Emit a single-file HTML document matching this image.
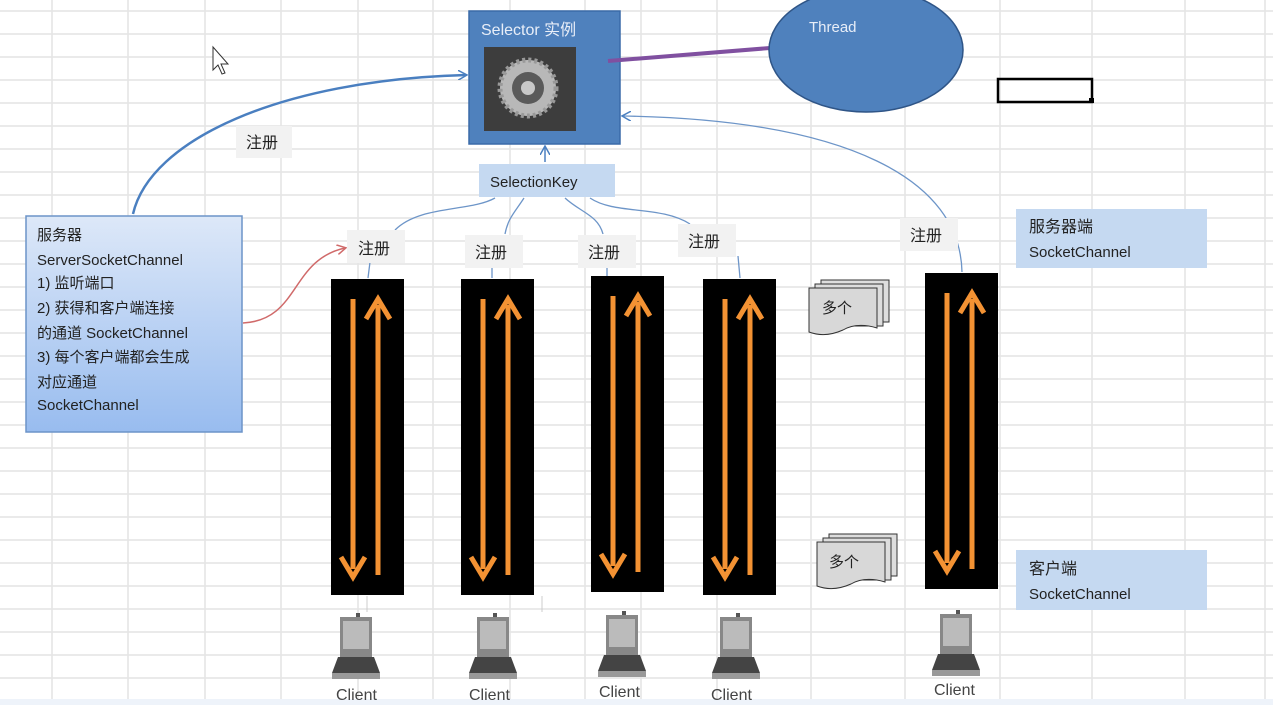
<!DOCTYPE html>
<html><head><meta charset="utf-8"><style>
html,body{margin:0;padding:0;background:#fff;}
svg{display:block;}
text{font-family:"Liberation Sans","Noto Sans CJK SC",sans-serif;}
</style></head><body>
<svg width="1273" height="705" viewBox="0 0 1273 705" xmlns="http://www.w3.org/2000/svg">
<defs>
<linearGradient id="bg1" x1="0" y1="0" x2="0" y2="1"><stop offset="0" stop-color="#dde8f8"/><stop offset="1" stop-color="#98bcef"/></linearGradient>
<marker id="ab" markerWidth="10" markerHeight="10" refX="8" refY="5" orient="auto" markerUnits="userSpaceOnUse"><path d="M0,0 L9,5 L0,10" fill="none" stroke="#4a7fc0" stroke-width="1.5"/></marker>
<marker id="ar" markerWidth="10" markerHeight="10" refX="8" refY="5" orient="auto" markerUnits="userSpaceOnUse"><path d="M0,0 L9,5 L0,10" fill="none" stroke="#d06a6a" stroke-width="1.5"/></marker>
<g id="bar">
<rect x="0" y="0" width="73" height="316" fill="#000"/>
<line x1="22" y1="20" x2="22" y2="290" stroke="#f39233" stroke-width="5"/>
<path d="M10,278 L22,298 L34,278" fill="none" stroke="#f39233" stroke-width="5"/>
<line x1="47" y1="296" x2="47" y2="26" stroke="#f39233" stroke-width="5"/>
<path d="M35,40 L47,20 L59,40" fill="none" stroke="#f39233" stroke-width="5"/>
</g>
<g id="pc">
<rect x="-2" y="0" width="4" height="6" fill="#555"/>
<rect x="-18" y="4" width="32" height="40" fill="#888"/>
<rect x="-15" y="8" width="26" height="28" fill="#bbb"/>
<path d="M-20,44 L16,44 L22,60 L-26,60 Z" fill="#444"/>
<rect x="-26" y="60" width="48" height="6" fill="#999"/>
</g>
<g id="doc">
<path d="M12,-6 h68 v42 h-68z" fill="#ddd" stroke="#333"/>
<path d="M6,-2 h68 v42 h-68z" fill="#ddd" stroke="#333"/>
<path d="M0,2 h68 v40 q-20,-6 -34,2 q-18,8 -34,2 z" fill="#d8d8d8" stroke="#333"/>
</g>
</defs>
<g stroke="#e4e4e4" stroke-width="1.5">
<line x1="0" y1="11" x2="1273" y2="11"/><line x1="0" y1="34" x2="1273" y2="34"/><line x1="0" y1="57" x2="1273" y2="57"/><line x1="0" y1="80" x2="1273" y2="80"/><line x1="0" y1="103" x2="1273" y2="103"/><line x1="0" y1="126" x2="1273" y2="126"/><line x1="0" y1="149" x2="1273" y2="149"/><line x1="0" y1="172" x2="1273" y2="172"/><line x1="0" y1="195" x2="1273" y2="195"/><line x1="0" y1="218" x2="1273" y2="218"/><line x1="0" y1="241" x2="1273" y2="241"/><line x1="0" y1="264" x2="1273" y2="264"/><line x1="0" y1="287" x2="1273" y2="287"/><line x1="0" y1="310" x2="1273" y2="310"/><line x1="0" y1="333" x2="1273" y2="333"/><line x1="0" y1="356" x2="1273" y2="356"/><line x1="0" y1="379" x2="1273" y2="379"/><line x1="0" y1="402" x2="1273" y2="402"/><line x1="0" y1="425" x2="1273" y2="425"/><line x1="0" y1="448" x2="1273" y2="448"/><line x1="0" y1="471" x2="1273" y2="471"/><line x1="0" y1="494" x2="1273" y2="494"/><line x1="0" y1="517" x2="1273" y2="517"/><line x1="0" y1="540" x2="1273" y2="540"/><line x1="0" y1="563" x2="1273" y2="563"/><line x1="0" y1="586" x2="1273" y2="586"/><line x1="0" y1="609" x2="1273" y2="609"/><line x1="0" y1="632" x2="1273" y2="632"/><line x1="0" y1="655" x2="1273" y2="655"/><line x1="0" y1="678" x2="1273" y2="678"/>
<line x1="52" y1="0" x2="52" y2="705"/><line x1="128" y1="0" x2="128" y2="705"/><line x1="205" y1="0" x2="205" y2="705"/><line x1="281" y1="0" x2="281" y2="705"/><line x1="358" y1="0" x2="358" y2="705"/><line x1="433" y1="0" x2="433" y2="705"/><line x1="510" y1="0" x2="510" y2="705"/><line x1="585" y1="0" x2="585" y2="705"/><line x1="641" y1="0" x2="641" y2="705"/><line x1="717" y1="0" x2="717" y2="705"/><line x1="811" y1="0" x2="811" y2="705"/><line x1="905" y1="0" x2="905" y2="705"/><line x1="1000" y1="0" x2="1000" y2="705"/><line x1="1092" y1="0" x2="1092" y2="705"/><line x1="1185" y1="0" x2="1185" y2="705"/><line x1="1265" y1="0" x2="1265" y2="705"/>
</g>
<rect x="0" y="699" width="1273" height="6" fill="#eef3fa"/>

<path d="M213,47 L213,70 L218,65 L222,74 L225,73 L221,64 L228,64 Z" fill="#fff" stroke="#333" stroke-width="1"/>

<rect x="469" y="11" width="151" height="133" fill="#4f81bd" stroke="#3a6aa8" stroke-width="1.5"/>
<text x="481" y="35" font-size="16" fill="#e8eef8">Selector 实例</text>
<rect x="484" y="47" width="92" height="84" fill="#3d3d3d"/>
<circle cx="528" cy="88" r="28" fill="#b8b8b8" stroke="#999" stroke-width="5" stroke-dasharray="3 3"/>
<circle cx="528" cy="88" r="16" fill="#5a5a5a"/>
<circle cx="528" cy="88" r="7" fill="#c8c8c8"/>

<line x1="608" y1="61" x2="770" y2="48" stroke="#8050a0" stroke-width="4"/>
<ellipse cx="866" cy="50" rx="97" ry="62" fill="#4f81bd" stroke="#2f5587" stroke-width="1.5"/>
<text x="809" y="32" font-size="15" fill="#e8eef8">Thread</text>
<rect x="998" y="79" width="94" height="23" fill="none" stroke="#000" stroke-width="2.5"/>
<rect x="1089" y="98" width="5" height="5" fill="#000"/>

<path d="M133,214 C150,140 280,80 466,75" fill="none" stroke="#4a7fc0" stroke-width="2.5" marker-end="url(#ab)"/>
<rect x="236" y="126" width="56" height="32" fill="#f2f2f2"/>
<text x="246" y="148" font-size="16" fill="#222">注册</text>

<line x1="545" y1="162" x2="545" y2="147" stroke="#4a7fc0" stroke-width="1.5" marker-end="url(#ab)"/>
<rect x="479" y="164" width="136" height="33" fill="#c5d9f1"/>
<text x="490" y="187" font-size="15" fill="#222">SelectionKey</text>
<g fill="none" stroke="#6d95c8" stroke-width="1.3">
<path d="M395,230 C420,205 470,212 495,198"/>
<path d="M524,198 C515,212 508,218 505,234"/>
<path d="M565,198 C580,212 598,215 603,234"/>
<path d="M590,198 C615,215 660,205 690,224"/>
<path d="M370,262 L368,278"/><path d="M492,267 L492,278"/><path d="M607,267 L607,276"/><path d="M738,256 L740,278"/>
<path d="M962,272 C960,180 850,120 623,116" marker-end="url(#ab)"/>
</g>

<rect x="26" y="216" width="216" height="216" fill="url(#bg1)" stroke="#6c94c8" stroke-width="1.5"/>
<g font-size="15" fill="#222">
<text x="37" y="240">服务器</text>
<text x="37" y="265">ServerSocketChannel</text>
<text x="37" y="288">1) 监听端口</text>
<text x="37" y="313">2)  获得和客户端连接</text>
<text x="37" y="338">的通道 SocketChannel</text>
<text x="37" y="362">3) 每个客户端都会生成</text>
<text x="37" y="387">对应通道</text>
<text x="37" y="410">SocketChannel</text>
</g>
<path d="M243,323 C300,320 290,260 345,248" fill="none" stroke="#d06a6a" stroke-width="1.5" marker-end="url(#ar)"/>

<g font-size="16" fill="#222">
<rect x="347" y="230" width="58" height="33" fill="#f2f2f2"/><text x="358" y="254">注册</text>
<rect x="465" y="235" width="58" height="33" fill="#f2f2f2"/><text x="475" y="258">注册</text>
<rect x="578" y="235" width="58" height="33" fill="#f2f2f2"/><text x="588" y="258">注册</text>
<rect x="678" y="224" width="58" height="33" fill="#f2f2f2"/><text x="688" y="247">注册</text>
<rect x="900" y="218" width="58" height="33" fill="#f2f2f2"/><text x="910" y="241">注册</text>
</g>

<use href="#bar" x="331" y="279"/>
<use href="#bar" x="461" y="279"/>
<use href="#bar" x="591" y="276"/>
<use href="#bar" x="703" y="279"/>
<use href="#bar" x="925" y="273"/>

<use href="#doc" x="809" y="286"/>
<text x="822" y="313" font-size="15" fill="#222">多个</text>
<use href="#doc" x="817" y="540"/>
<text x="829" y="567" font-size="15" fill="#222">多个</text>

<rect x="1016" y="209" width="191" height="59" fill="#c5d9f1"/>
<text x="1029" y="232" font-size="16" fill="#222">服务器端</text>
<text x="1029" y="257" font-size="15" fill="#222">SocketChannel</text>
<rect x="1016" y="550" width="191" height="60" fill="#c5d9f1"/>
<text x="1029" y="574" font-size="16" fill="#222">客户端</text>
<text x="1029" y="599" font-size="15" fill="#222">SocketChannel</text>

<g stroke="#ccc"><line x1="367" y1="596" x2="367" y2="612"/><line x1="542" y1="596" x2="542" y2="612"/></g>
<use href="#pc" x="358" y="613"/>
<use href="#pc" x="495" y="613"/>
<use href="#pc" x="624" y="611"/>
<use href="#pc" x="738" y="613"/>
<use href="#pc" x="958" y="610"/>
<g font-size="16" fill="#444">
<text x="336" y="700">Client</text>
<text x="469" y="700">Client</text>
<text x="599" y="697">Client</text>
<text x="711" y="700">Client</text>
<text x="934" y="695">Client</text>
</g>
</svg>
</body></html>
